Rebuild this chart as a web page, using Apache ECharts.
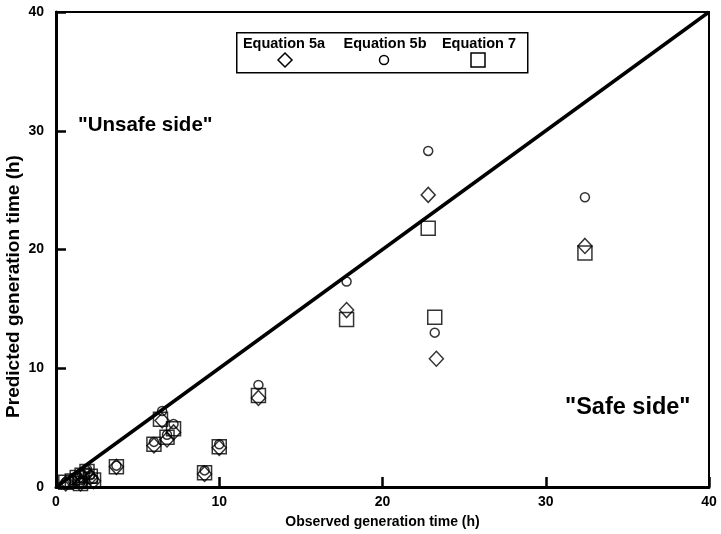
<!DOCTYPE html>
<html>
<head>
<meta charset="utf-8">
<script src="https://cdn.jsdelivr.net/npm/echarts@6/dist/echarts.min.js"></script>
<style>
html,body{margin:0;padding:0;background:#fff;}
#chart{width:721px;height:534px;}
</style>
</head>
<body>
<div id="chart"></div>
<script>
// Observed vs predicted generation time (h)
const eq5a = [[0.6,0.3],[1.0,0.5],[1.3,0.7],[1.6,0.9],[1.9,1.2],[2.1,0.8],[2.3,0.5],[1.5,0.3],[3.7,1.7],[6.0,3.5],[6.5,5.6],[6.8,4.0],[7.2,4.6],[9.1,1.1],[10.0,3.3],[12.4,7.5],[17.8,14.9],[22.8,24.6],[23.3,10.8],[32.4,20.3]];
const eq5b = [[0.6,0.4],[1.0,0.6],[1.3,0.9],[1.6,1.1],[1.9,1.5],[2.1,1.0],[2.3,0.7],[1.5,0.4],[3.7,1.8],[6.0,3.8],[6.5,6.4],[6.8,4.4],[7.2,5.3],[9.1,1.4],[10.0,3.6],[12.4,8.6],[17.8,17.3],[22.8,28.3],[23.2,13.0],[32.4,24.4]];
const eq7 = [[0.6,0.4],[1.0,0.5],[1.3,0.8],[1.6,1.0],[1.9,1.3],[2.1,0.9],[2.3,0.6],[1.5,0.3],[3.7,1.7],[6.0,3.6],[6.4,5.7],[6.8,4.2],[7.2,4.9],[9.1,1.2],[10.0,3.4],[12.4,7.7],[17.8,14.1],[22.8,21.8],[23.2,14.3],[32.4,19.7]];
const identityLine = [[0,0],[40,40]];
const legendNames = ['Equation 5a','Equation 5b','Equation 7'];
const xTicks = [0,10,20,30,40];
const yTicks = [0,10,20,30,40];

const FONT = '"Liberation Sans", Arial, sans-serif';
const chart = echarts.init(document.getElementById('chart'));

const markerStyle = {color:'transparent', borderColor:'#000', borderWidth:1.5};
const axisCommon = {
  type:'value', min:0, max:40, interval:10,
  axisLine:{show:true, onZero:false, lineStyle:{color:'#000', width:3}},
  axisTick:{show:true, inside:true, length:10, lineStyle:{color:'#000', width:2.5}},
  splitLine:{show:false},
  axisLabel:{color:'#000', fontFamily:FONT, fontWeight:'bold', fontSize:14},
  nameTextStyle:{color:'#000', fontFamily:FONT, fontWeight:'bold', fontSize:14}
};

chart.setOption({
  animation:false,
  backgroundColor:'#fff',
  grid:{left:56, right:12, top:12, bottom:47, containLabel:false, outerBoundsMode:'none', show:true, borderColor:'#000', borderWidth:2, backgroundColor:'transparent'},
  xAxis:Object.assign({}, axisCommon, {
    name:'Observed generation time (h)', nameLocation:'middle', nameGap:28, nameMoveOverlap:false,
    axisLabel:Object.assign({}, axisCommon.axisLabel, {margin:8, formatter:v=>xTicks.includes(v)?String(v):''})
  }),
  yAxis:Object.assign({}, axisCommon, {
    name:'Predicted generation time (h)', nameLocation:'middle', nameGap:33, nameMoveOverlap:false,
    nameTextStyle:Object.assign({}, axisCommon.nameTextStyle, {fontSize:19, padding:[0,74,0,0]}),
    axisLabel:Object.assign({}, axisCommon.axisLabel, {margin:12, formatter:v=>yTicks.includes(v)?String(v):''})
  }),
  series:[
    {type:'line', data:identityLine, symbol:'none', silent:true, lineStyle:{color:'#000', width:3.5}, z:1},
    {name:legendNames[0], type:'scatter', data:eq5a, symbol:'diamond', symbolSize:[14,15], itemStyle:markerStyle, z:3},
    {name:legendNames[1], type:'scatter', data:eq5b, symbol:'circle', symbolSize:9, itemStyle:markerStyle, z:3},
    {name:legendNames[2], type:'scatter', data:eq7, symbol:'rect', symbolSize:14, itemStyle:markerStyle, z:3}
  ],
  graphic:[
    {type:'rect', left:236, top:32, shape:{width:291, height:40}, style:{fill:'#fff', stroke:'#000', lineWidth:1.5}, z:10},
    {type:'text', x:284, y:44, style:{text:legendNames[0], font:'bold 14.5px '+FONT, fill:'#000', align:'center', verticalAlign:'middle'}, z:11},
    {type:'text', x:385, y:44, style:{text:legendNames[1], font:'bold 14.5px '+FONT, fill:'#000', align:'center', verticalAlign:'middle'}, z:11},
    {type:'text', x:479, y:44, style:{text:legendNames[2], font:'bold 14.5px '+FONT, fill:'#000', align:'center', verticalAlign:'middle'}, z:11},
    {type:'polygon', shape:{points:[[285,53],[292,60],[285,67],[278,60]]}, style:{fill:'none', stroke:'#000', lineWidth:1.5}, z:11},
    {type:'circle', shape:{cx:384, cy:60, r:4.5}, style:{fill:'none', stroke:'#000', lineWidth:1.5}, z:11},
    {type:'rect', shape:{x:471, y:53, width:14, height:14}, style:{fill:'none', stroke:'#000', lineWidth:1.5}, z:11},
    {type:'text', x:78, y:125, style:{text:'"Unsafe side"', font:'bold 20.5px '+FONT, fill:'#000', align:'left', verticalAlign:'middle'}, z:11},
    {type:'text', x:565, y:408, style:{text:'"Safe side"', font:'bold 23.5px '+FONT, fill:'#000', align:'left', verticalAlign:'middle'}, z:11}
  ]
});
</script>
</body>
</html>
